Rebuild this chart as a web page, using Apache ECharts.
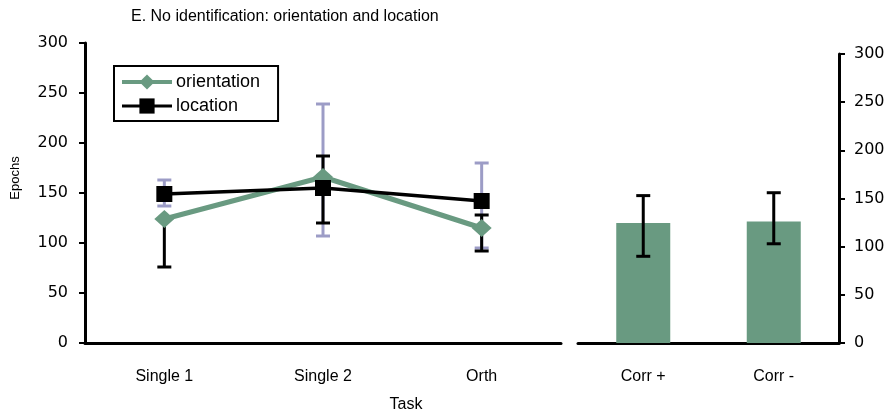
<!DOCTYPE html>
<html>
<head>
<meta charset="utf-8">
<script src="https://cdn.jsdelivr.net/npm/echarts@6/dist/echarts.min.js"></script>
<style>
  html, body { margin: 0; padding: 0; background: #fff; }
  #chart { width: 893px; height: 417px; }
</style>
</head>
<body>
<div id="chart"></div>
<script>
// Task categories for the two panels
const lineTasks = ['Single 1', 'Single 2', 'Orth'];
const barTasks = ['Corr +', 'Corr -'];

// Mean epochs per task (left panel)
const orientationMeans = [124, 166, 115];
const locationMeans = [149, 155, 142];

// Error bars drawn on the left panel: [task index, low, high]
const errLavender = [[0, 137, 163], [1, 107, 239], [2, 95, 180]];
const errBlack = [[0, 76, 124], [1, 120, 187], [2, 92, 128]];

// Correlated tasks (right panel)
const corrMeans = [124.6, 126.2];
const corrErr = [[0, 90, 153], [1, 103, 156]];

const yTicks = { min: 0, max: 300, interval: 50 };

const GREEN = '#699a81';
const LAVENDER = '#9c9cc6';
const SANS = '"Liberation Sans", Arial, sans-serif';
const WIDE = '"DejaVu Sans", sans-serif';

function errorBarSeries(data, color, xi, yi, z) {
  return {
    type: 'custom',
    xAxisIndex: xi,
    yAxisIndex: yi,
    z: z,
    silent: true,
    data: data,
    encode: { x: 0, y: [1, 2] },
    renderItem: function (params, api) {
      const x = api.value(0);
      const lo = api.coord([x, api.value(1)]);
      const hi = api.coord([x, api.value(2)]);
      const half = 7;
      const style = { stroke: color, lineWidth: 3, fill: null };
      return {
        type: 'group',
        children: [
          { type: 'line', shape: { x1: lo[0], y1: lo[1], x2: hi[0], y2: hi[1] }, style: style },
          { type: 'line', shape: { x1: lo[0] - half, y1: lo[1], x2: lo[0] + half, y2: lo[1] }, style: style },
          { type: 'line', shape: { x1: hi[0] - half, y1: hi[1], x2: hi[0] + half, y2: hi[1] }, style: style }
        ]
      };
    }
  };
}

const axisLineStyle = { show: true, lineStyle: { color: '#000', width: 3 } };
const catLabel = { margin: 26, fontSize: 16, color: '#000', fontFamily: SANS };
const tickLabel = { fontSize: 16, color: '#000', fontFamily: WIDE };

const chart = echarts.init(document.getElementById('chart'));
chart.setOption({
  animation: false,
  textStyle: { fontFamily: SANS },
  title: {
    text: 'E. No identification: orientation and location',
    left: 131,
    top: 9,
    padding: 0,
    textStyle: { fontFamily: SANS, fontSize: 16, fontWeight: 'normal', color: '#000' }
  },
  legend: {
    orient: 'vertical',
    left: 114,
    top: 66,
    padding: [7, 18, 6, 6],
    itemGap: 6,
    itemWidth: 50,
    itemHeight: 19,
    borderColor: '#000',
    borderWidth: 2,
    borderRadius: 0,
    textStyle: { fontFamily: SANS, fontSize: 18, color: '#000', padding: [0, 0, 0, -1] },
    data: [
      { name: 'orientation', lineStyle: { width: 4, color: GREEN } },
      { name: 'location', lineStyle: { width: 3, color: '#000' } }
    ]
  },
  grid: [
    { left: 85, top: 43, width: 476, height: 300 },
    { left: 578, top: 54, width: 261, height: 289 }
  ],
  xAxis: [
    {
      type: 'category', gridIndex: 0, data: lineTasks,
      axisLine: axisLineStyle, axisTick: { show: false },
      axisLabel: catLabel
    },
    {
      type: 'category', gridIndex: 1, data: barTasks,
      axisLine: axisLineStyle, axisTick: { show: false },
      axisLabel: catLabel
    }
  ],
  yAxis: [
    {
      type: 'value', gridIndex: 0, min: yTicks.min, max: yTicks.max, interval: yTicks.interval,
      axisLine: axisLineStyle,
      axisTick: { show: true, length: 6, lineStyle: { color: '#000', width: 2 } },
      splitLine: { show: false },
      axisLabel: Object.assign({ margin: 17 }, tickLabel)
    },
    {
      type: 'value', gridIndex: 1, position: 'right', min: yTicks.min, max: yTicks.max, interval: yTicks.interval,
      axisLine: axisLineStyle,
      axisTick: { show: true, length: 6, lineStyle: { color: '#000', width: 2 } },
      splitLine: { show: false },
      axisLabel: Object.assign({ margin: 15 }, tickLabel)
    }
  ],
  graphic: [
    {
      type: 'text', x: 15, y: 178, rotation: Math.PI / 2,
      style: { text: 'Epochs', font: '13px "Liberation Sans"', fill: '#000', align: 'center', verticalAlign: 'middle' }
    },
    {
      type: 'text', x: 406, y: 405,
      style: { text: 'Task', font: '16px "Liberation Sans"', fill: '#000', align: 'center', verticalAlign: 'middle' }
    }
  ],
  series: [
    errorBarSeries(errLavender, LAVENDER, 0, 0, 1),
    errorBarSeries(errBlack, '#000', 0, 0, 2),
    {
      name: 'orientation', type: 'line', xAxisIndex: 0, yAxisIndex: 0, z: 3,
      data: orientationMeans,
      symbol: 'diamond', symbolSize: [20, 18],
      itemStyle: { color: GREEN },
      lineStyle: { color: GREEN, width: 5 }
    },
    {
      name: 'location', type: 'line', xAxisIndex: 0, yAxisIndex: 0, z: 4,
      data: locationMeans,
      symbol: 'rect', symbolSize: 16,
      itemStyle: { color: '#000' },
      lineStyle: { color: '#000', width: 3.5 }
    },
    {
      type: 'bar', xAxisIndex: 1, yAxisIndex: 1, z: 2,
      data: corrMeans, barWidth: 54,
      itemStyle: { color: GREEN }
    },
    errorBarSeries(corrErr, '#000', 1, 1, 3)
  ]
});
</script>
</body>
</html>
